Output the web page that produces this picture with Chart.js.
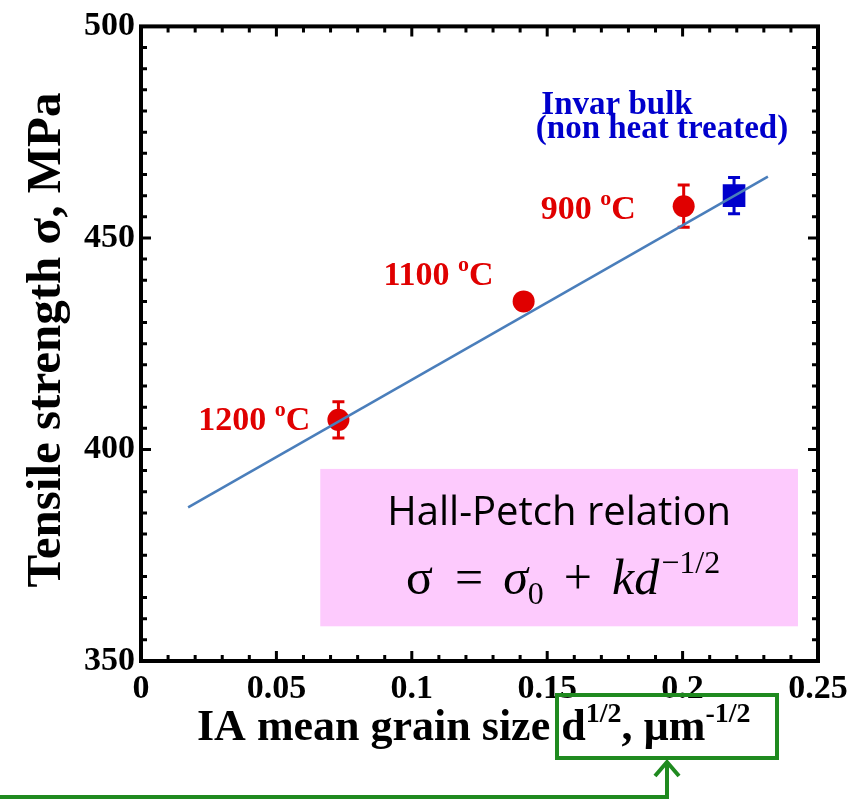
<!DOCTYPE html>
<html>
<head>
<meta charset="utf-8">
<script src="https://cdn.jsdelivr.net/npm/chart.js@4.4.1/dist/chart.umd.min.js"></script>
<style>
  body { margin: 0; background: #fff; }
</style>
</head>
<body>
<canvas id="hallPetch" width="859" height="800"></canvas>
<script>
// values
var grainSize = [0.0729, 0.1413, 0.2004];     // d^-1/2, um^-1/2
var strength = [407, 435, 457.5];             // MPa
var strengthErr = [4.3, 1.2, 5.0];
var annealTemp = ['1200', '1100', '900'];
var bulkSize = [0.219];
var bulkStrength = [460];
var bulkErr = [4.3];
var fitSize = [0.0174, 0.2315];
var fitStrength = [386.3, 464.5];
var xTicks = [0, 0.05, 0.1, 0.15, 0.2, 0.25];
var yTicks = [350, 400, 450, 500];

var RED = '#e00000';
var BLUE = '#0000cc';
var GREEN = '#1f8a1f';
var serif = "'Liberation Serif', 'Times New Roman', serif";

function pts(xs, ys) {
    return xs.map(function(x, i) { return { x: x, y: ys[i] }; });
}

// draws a row of text pieces (for super/subscripts)
function drawRuns(ctx, runs, x, y, align) {
    var total = 0;
    runs.forEach(function(r) { ctx.font = r.font; total += ctx.measureText(r.t).width + (r.dx || 0); });
    if (align === 'right') x -= total;
    if (align === 'center') x -= total / 2;
    ctx.textAlign = 'left';
    ctx.textBaseline = 'alphabetic';
    runs.forEach(function(r) {
        ctx.font = r.font;
        x += r.dx || 0;
        ctx.fillText(r.t, x, y - (r.rise || 0));
        x += ctx.measureText(r.t).width;
    });
}

var errorBars = {
    id: 'errorBars',
    beforeDatasetsDraw: function(chart) {
        var ctx = chart.ctx, xs = chart.scales.x, ys = chart.scales.y;
        var sets = [
            { x: grainSize, y: strength, e: strengthErr, c: RED },
            { x: bulkSize, y: bulkStrength, e: bulkErr, c: BLUE }
        ];
        ctx.save();
        ctx.lineWidth = 3;
        sets.forEach(function(s) {
            ctx.strokeStyle = s.c;
            s.x.forEach(function(v, i) {
                var px = xs.getPixelForValue(v);
                var top = ys.getPixelForValue(s.y[i] + s.e[i]);
                var bot = ys.getPixelForValue(s.y[i] - s.e[i]);
                ctx.beginPath();
                ctx.moveTo(px, top); ctx.lineTo(px, bot);
                ctx.moveTo(px - 6, top); ctx.lineTo(px + 6, top);
                ctx.moveTo(px - 6, bot); ctx.lineTo(px + 6, bot);
                ctx.stroke();
            });
        });
        ctx.restore();
    }
};

var decorations = {
    id: 'decorations',
    beforeDatasetsDraw: function(chart) {
        // pink Hall-Petch box sits under the data
        var ctx = chart.ctx, xs = chart.scales.x, ys = chart.scales.y;
        var l = xs.getPixelForValue(0.0662), r = xs.getPixelForValue(0.2426);
        var t = ys.getPixelForValue(395.4), b = ys.getPixelForValue(358.2);
        ctx.save();
        ctx.fillStyle = '#fdcafd';
        ctx.fillRect(l, t, r - l, b - t);
        ctx.fillStyle = '#000';
        drawRuns(ctx, [{ t: 'Hall-Petch relation', font: "40px 'Open Sans', sans-serif" }], (l + r) / 2, t + 56, 'center');
        var f = "50px " + serif, fi = "italic 50px " + serif, fs = "32px " + serif;
        drawRuns(ctx, [
            { t: 'σ', font: f },
            { t: '=', font: f, dx: 22 },
            { t: 'σ', font: fi, dx: 20 },
            { t: '0', font: fs, rise: -10 },
            { t: '+', font: f, dx: 20 },
            { t: 'kd', font: fi, dx: 20 },
            { t: '−1/2', font: fs, rise: 21, dx: 2 }
        ], (l + r) / 2 + 4, t + 125, 'center');
        ctx.restore();
    },
    afterDraw: function(chart) {
        var ctx = chart.ctx, a = chart.chartArea, xs = chart.scales.x, ys = chart.scales.y;
        ctx.save();
        // inner tick marks on all four sides
        ctx.strokeStyle = '#000';
        ctx.lineWidth = 3;
        ctx.beginPath();
        for (var i = 0; i <= 25; i++) {
            var px = xs.getPixelForValue(i / 100);
            var len = i % 5 === 0 ? 10 : 6;
            ctx.moveTo(px, a.bottom); ctx.lineTo(px, a.bottom - len);
            ctx.moveTo(px, a.top); ctx.lineTo(px, a.top + len);
        }
        for (var v = 350; v <= 500; v += 5) {
            var py = ys.getPixelForValue(v);
            var ln = v % 50 === 0 ? 10 : 6;
            ctx.moveTo(a.left, py); ctx.lineTo(a.left + ln, py);
            ctx.moveTo(a.right, py); ctx.lineTo(a.right - ln, py);
        }
        ctx.stroke();
        ctx.lineWidth = 4;
        ctx.strokeRect(a.left, a.top, a.right - a.left, a.bottom - a.top);

        // temperature labels next to the red points
        var offs = [[-28, 10], [-30, -16], [-48, 13]];
        ctx.fillStyle = RED;
        grainSize.forEach(function(g, k) {
            var px = xs.getPixelForValue(g), py = ys.getPixelForValue(strength[k]);
            drawRuns(ctx, [
                { t: annealTemp[k] + ' ', font: 'bold 34px ' + serif },
                { t: 'o', font: 'bold 22px ' + serif, rise: 14 },
                { t: 'C', font: 'bold 34px ' + serif }
            ], px + offs[k][0], py + offs[k][1], 'right');
        });

        ctx.fillStyle = BLUE;
        drawRuns(ctx, [{ t: 'Invar bulk', font: 'bold 33px ' + serif }], 617, 114, 'center');
        drawRuns(ctx, [{ t: '(non heat treated)', font: 'bold 33px ' + serif }], 662, 138, 'center');

        // axis titles
        ctx.fillStyle = '#000';
        var big = 'bold 44px ' + serif, sup = 'bold 28px ' + serif;
        drawRuns(ctx, [
            { t: 'IA mean grain size ', font: big },
            { t: 'd', font: big },
            { t: '1/2', font: sup, rise: 18 },
            { t: ', µm', font: big },
            { t: '-1/2', font: sup, rise: 18 }
        ], 197, 740, 'left');

        ctx.translate(60, 340);
        ctx.rotate(-Math.PI / 2);
        drawRuns(ctx, [{ t: 'Tensile strength σ, MPa', font: 'bold 49px ' + serif }], 0, 0, 'center');
        ctx.setTransform(1, 0, 0, 1, 0, 0);

        // green highlight box and arrow under the unit
        ctx.strokeStyle = GREEN;
        ctx.lineWidth = 4;
        ctx.strokeRect(557, 695, 220, 63);
        ctx.beginPath();
        ctx.moveTo(0, 797); ctx.lineTo(667, 797); ctx.lineTo(667, 762);
        ctx.moveTo(655, 776); ctx.lineTo(667, 762); ctx.lineTo(679, 776);
        ctx.stroke();
        ctx.restore();
    }
};

var ctx = document.getElementById('hallPetch').getContext('2d');
var hallPetchChart = new Chart(ctx, {
    type: 'scatter',
    data: {
        datasets: [{
            label: 'fit',
            data: pts(fitSize, fitStrength),
            showLine: true,
            borderColor: '#4a7ebb',
            borderWidth: 2.5,
            pointRadius: 0
        }, {
            label: 'annealed',
            data: pts(grainSize, strength),
            pointStyle: 'circle',
            pointRadius: 11,
            backgroundColor: RED,
            borderWidth: 0
        }, {
            label: 'Invar bulk',
            data: pts(bulkSize, bulkStrength),
            pointStyle: 'rect',
            pointRadius: 16,
            backgroundColor: BLUE,
            borderWidth: 0
        }]
    },
    options: {
        responsive: false,
        animation: false,
        layout: { padding: { left: 0, top: 21, right: 41, bottom: 0 } },
        plugins: { legend: { display: false }, tooltip: { enabled: false } },
        scales: {
            x: {
                type: 'linear', min: 0, max: 0.25,
                afterBuildTicks: function(s) { s.ticks = xTicks.map(function(v) { return { value: v }; }); },
                afterFit: function(s) { s.height = 139; },
                grid: { display: false, drawTicks: false },
                border: { display: false },
                ticks: {
                    color: '#000', padding: 8,
                    font: { family: serif, size: 34, weight: 'bold' },
                    callback: function(v) { return String(v); }
                }
            },
            y: {
                type: 'linear', min: 350, max: 500,
                afterBuildTicks: function(s) { s.ticks = yTicks.map(function(v) { return { value: v }; }); },
                afterFit: function(s) { s.width = 141; },
                grid: { display: false, drawTicks: false },
                border: { display: false },
                ticks: {
                    color: '#000', padding: 6,
                    font: { family: serif, size: 34, weight: 'bold' }
                }
            }
        }
    },
    plugins: [decorations, errorBars]
});
</script>
</body>
</html>
